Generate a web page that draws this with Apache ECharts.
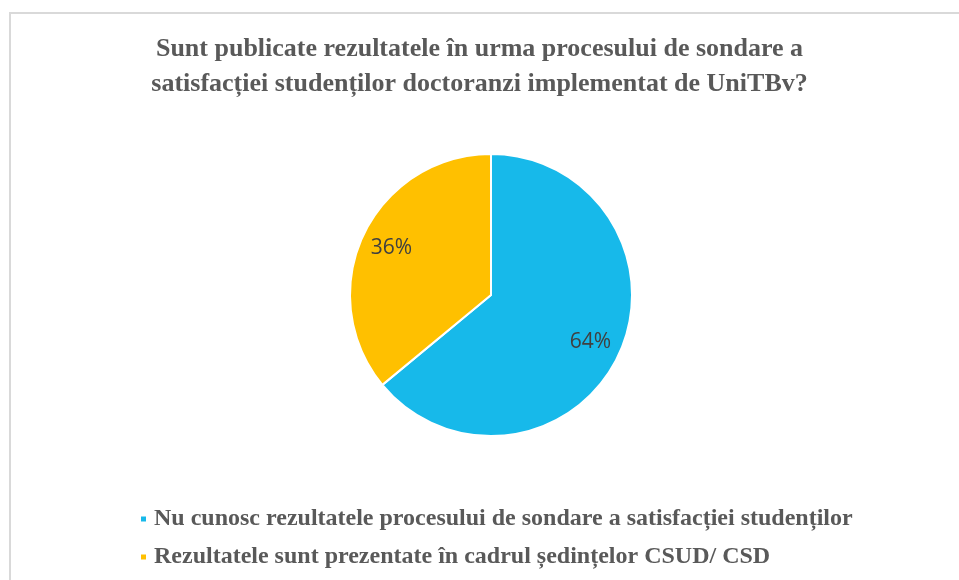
<!DOCTYPE html>
<html>
<head>
<meta charset="utf-8">
<script src="https://cdn.jsdelivr.net/npm/echarts@6/dist/echarts.min.js"></script>
<style>
  html, body { margin: 0; padding: 0; background: #fff; }
  #chart { width: 959px; height: 580px; }
</style>
</head>
<body>
<div id="chart"></div>
<script>
const titleText = 'Sunt publicate rezultatele în urma procesului de sondare a\nsatisfacției studenților doctoranzi implementat de UniTBv?'
const categories = [
  'Nu cunosc rezultatele procesului de sondare a satisfacției studenților',
  'Rezultatele sunt prezentate în cadrul ședințelor CSUD/ CSD'
]
const shares = [64, 36]
const colors = ['#17B9EA', '#FFC000']

const chart = echarts.init(document.getElementById('chart'))

const pieData = categories.map((name, i) => ({ name, value: shares[i] }))

const option = {
  animation: false,
  color: colors,
  title: {
    text: titleText,
    left: 'center',
    top: 27,
    textStyle: {
      fontFamily: 'Liberation Serif',
      fontWeight: 'bold',
      fontSize: 26,
      lineHeight: 35,
      color: '#595959'
    }
  },
  graphic: [
    {
      type: 'rect',
      shape: { x: 10, y: 13, width: 960, height: 600 },
      style: { fill: 'none', stroke: '#d9d9d9', lineWidth: 2 },
      silent: true
    }
  ],
  legend: {
    orient: 'vertical',
    left: 134,
    top: 502,
    itemGap: 14,
    icon: 'rect',
    itemWidth: 7,
    itemHeight: 7,
    selectedMode: false,
    data: categories,
    textStyle: {
      fontFamily: 'Liberation Serif',
      fontWeight: 'bold',
      fontSize: 24,
      color: '#595959',
      padding: [0, 0, 0, 2]
    }
  },
  series: [
    {
      type: 'pie',
      center: [491, 295],
      radius: 141,
      startAngle: 90,
      clockwise: true,
      itemStyle: { borderColor: '#fff', borderWidth: 2 },
      label: { show: false },
      labelLine: { show: false },
      emphasis: { disabled: true },
      data: pieData
    },
    {
      // label-only ring so the percentages sit at ~3/4 of the radius
      type: 'pie',
      center: [491, 295],
      radius: [73, 141],
      startAngle: 90,
      clockwise: true,
      silent: true,
      itemStyle: { color: 'transparent', borderWidth: 0 },
      label: {
        show: true,
        position: 'inside',
        formatter: '{c}%',
        fontFamily: 'Open Sans',
        fontSize: 21,
        color: '#404040'
      },
      labelLine: { show: false },
      emphasis: { disabled: true },
      data: pieData
    }
  ]
}

chart.setOption(option)
</script>
</body>
</html>
